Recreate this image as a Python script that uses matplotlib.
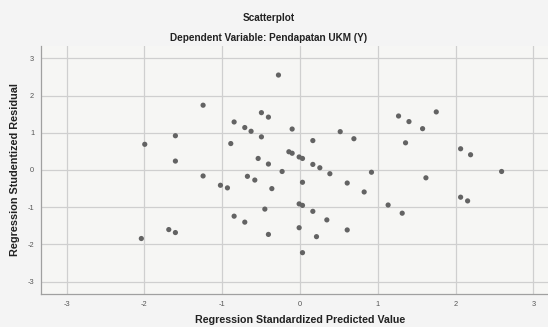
import matplotlib
matplotlib.use("Agg")
import matplotlib.pyplot as plt
import numpy as np

# Regression standardized predicted values (x) and studentized residuals (y)
pred = [-0.277, -1.246, -0.496, -0.406, -0.847, -0.710, -0.629, -1.602, -0.496, -0.101,
        -1.996, -0.890, -0.143, -0.101, -1.602, -0.538, -0.406, -0.230, -1.246, -0.676,
        -0.581, -1.023, -0.933, -0.362, -0.452, -0.847, -0.710, -1.687, -1.602, -0.406,
        -2.040, 1.267, 1.752, 1.401, 1.576, 0.517, 0.165, 0.693, 1.357, 2.065,
        2.193, -0.011, 0.032, 0.165, 0.255, 0.384, 0.919, 2.592, 0.032, 0.607,
        1.619, 0.825, -0.011, 0.032, 0.165, 1.133, 1.314, 2.065, 2.155, 0.345,
        -0.011, 0.607, 0.212, 0.032]
resid = [2.55, 1.74, 1.54, 1.42, 1.29, 1.14, 1.04, 0.92, 0.89, 1.10,
         0.69, 0.71, 0.49, 0.45, 0.24, 0.31, 0.16, -0.04, -0.16, -0.17,
         -0.27, -0.41, -0.48, -0.50, -1.05, -1.24, -1.40, -1.60, -1.68, -1.73,
         -1.84, 1.45, 1.56, 1.30, 1.11, 1.03, 0.79, 0.84, 0.73, 0.57,
         0.41, 0.35, 0.31, 0.15, 0.06, -0.10, -0.06, -0.04, -0.33, -0.35,
         -0.21, -0.59, -0.91, -0.95, -1.11, -0.94, -1.16, -0.73, -0.83, -1.34,
         -1.55, -1.61, -1.79, -2.22]
ticks = [-3, -2, -1, 0, 1, 2, 3]

title = "Scatterplot"
subtitle = "Dependent Variable: Pendapatan UKM (Y)"
xlabel = "Regression Standardized Predicted Value"
ylabel = "Regression Studentized Residual"

plt.rcParams['font.family'] = ['Liberation Sans', 'DejaVu Sans']

fig = plt.figure(figsize=(5.48, 3.27), dpi=100)
fig.patch.set_facecolor('#f4f4f4')
W, H = 548, 327
left, right, top, bottom = 41, 559, 46, 294
ax = fig.add_axes([left / W, 1 - bottom / H, (right - left) / W, (bottom - top) / H])
ax.set_facecolor('#f6f6f4')

ax.scatter(pred, resid, s=14, color='#636363', edgecolors='none', zorder=3)

ax.set_xlim(-3.33, 3.33)
ax.set_ylim(-3.33, 3.33)
ax.set_xticks(ticks)
ax.set_yticks(ticks)
ax.set_xticklabels([str(t) for t in ticks])
ax.set_yticklabels([str(t) for t in ticks])
ax.tick_params(length=0, labelsize=5.3, colors='#555555', pad=5)
ax.grid(True, color='#cfcfcf', linewidth=0.9, zorder=0)
for s in ['top', 'right']:
    ax.spines[s].set_visible(False)
for s in ['left', 'bottom']:
    ax.spines[s].set_color('#a0a0a0')
    ax.spines[s].set_linewidth(0.9)

fig.text(300 / W, 1 - 320 / H, xlabel, ha='center', va='center', fontsize=7.7,
         fontweight='bold', color='#222222')
fig.text(15 / W, 1 - 170 / H, ylabel, ha='center', va='center', rotation=90,
         fontsize=7.8, fontweight='bold', color='#222222')

fig.text(269 / W, 1 - 18 / H, title, ha='center', va='center', fontsize=7.2,
         fontweight='bold', color='#222222')
fig.text(269 / W, 1 - 38 / H, subtitle, ha='center', va='center', fontsize=7.2,
         fontweight='bold', color='#222222')

fig.savefig('out.png', dpi=100, facecolor=fig.get_facecolor())
